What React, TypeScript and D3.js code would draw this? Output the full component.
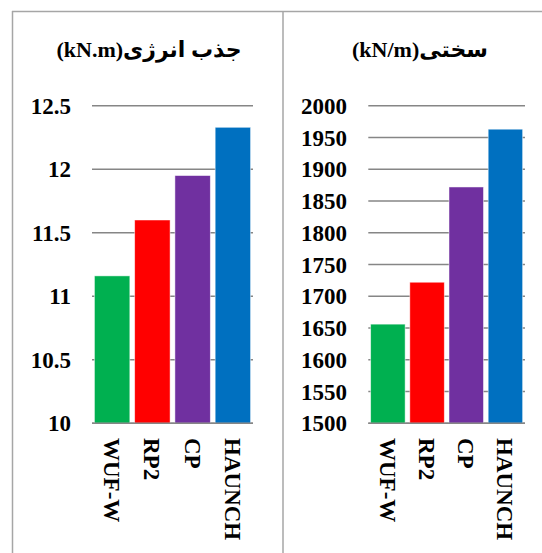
import React from "react";
import * as d3 from "d3";

const categories = ["WUF-W", "RP2", "CP", "HAUNCH"];
const colors = ["#00B050", "#FF0000", "#7030A0", "#0070C0"];
const energyValues = [11.16, 11.6, 11.95, 12.33];
const energyTicks = [10, 10.5, 11, 11.5, 12, 12.5];
const stiffnessValues = [1656, 1722, 1872, 1963];
const stiffnessTicks = [1500, 1550, 1600, 1650, 1700, 1750, 1800, 1850, 1900, 1950, 2000];
const energyTitle = "جذب انرژی(kN.m)";
const stiffnessTitle = "سختی(kN/m)";

const FONT = "'Liberation Serif', 'Times New Roman', 'DejaVu Serif', serif";
const ARABIC_FONT = "'Liberation Serif', 'DejaVu Sans', serif";

type PanelProps = {
  values: number[];
  ticks: number[];
  domain: [number, number];
  x0: number;
  x1: number;
  labelRight: number;
  title: string;
  titleX: number;
  fmt: (v: number) => string;
};

function Panel({ values, ticks, domain, x0, x1, labelRight, title, titleX, fmt }: PanelProps) {
  const y = d3.scaleLinear().domain(domain).range([423.2, 105.7]);
  const x = d3
    .scaleBand<string>()
    .domain(categories)
    .range([x0, x1])
    .paddingInner(0.12)
    .paddingOuter(0.06);
  return (
    <g>
      <text
        x={titleX}
        y={57}
        direction="rtl"
        textAnchor="middle"
        fontFamily={ARABIC_FONT}
        fontWeight="bold"
        fontSize={22}
        fill="#000"
      >
        {title}
      </text>
      {ticks.map((t) => (
        <g key={t}>
          <line x1={x0} x2={x1} y1={y(t)} y2={y(t)} stroke="#868686" strokeWidth={1.5} />
          <text
            x={labelRight}
            y={y(t)}
            dy="0.35em"
            textAnchor="end"
            fontFamily={FONT}
            fontWeight="bold"
            fontSize={23}
            fill="#000"
          >
            {fmt(t)}
          </text>
        </g>
      ))}
      {categories.map((c, i) => (
        <rect
          key={c}
          x={x(c)!}
          y={y(values[i])}
          width={x.bandwidth()}
          height={y(domain[0]) - y(values[i])}
          fill={colors[i]}
          stroke="#ffffff"
          strokeOpacity={0.6}
          strokeWidth={0.8}
        />
      ))}
      <line x1={x0} x2={x1} y1={y(domain[0])} y2={y(domain[0])} stroke="#868686" strokeWidth={1.5} />
      {categories.map((c) => {
        const cx = x(c)! + x.bandwidth() / 2;
        return (
          <text
            key={c}
            transform={`translate(${cx},438) rotate(90)`}
            dy="0.35em"
            textAnchor="start"
            fontFamily={FONT}
            fontWeight="bold"
            fontSize={23}
            fill="#000"
          >
            {c}
          </text>
        );
      })}
    </g>
  );
}

export default function App() {
  return (
    <svg
      width={542}
      height={553}
      style={{ position: "absolute", left: 0, top: 0, background: "#fff" }}
    >
      <rect x={0} y={0} width={542} height={553} fill="#fff" />
      <line x1={12} x2={542} y1={11.5} y2={11.5} stroke="#a6a6a6" strokeWidth={1.5} />
      <line x1={12.5} x2={12.5} y1={11} y2={553} stroke="#a6a6a6" strokeWidth={1.5} />
      <line x1={283} x2={283} y1={11} y2={553} stroke="#a6a6a6" strokeWidth={1.5} />
      <Panel
        values={energyValues}
        ticks={energyTicks}
        domain={[10, 12.5]}
        x0={92}
        x1={253}
        labelRight={71}
        title={energyTitle}
        titleX={149}
        fmt={(v) => String(v)}
      />
      <Panel
        values={stiffnessValues}
        ticks={stiffnessTicks}
        domain={[1500, 2000]}
        x0={368.3}
        x1={525}
        labelRight={347}
        title={stiffnessTitle}
        titleX={420}
        fmt={(v) => String(v)}
      />
    </svg>
  );
}
